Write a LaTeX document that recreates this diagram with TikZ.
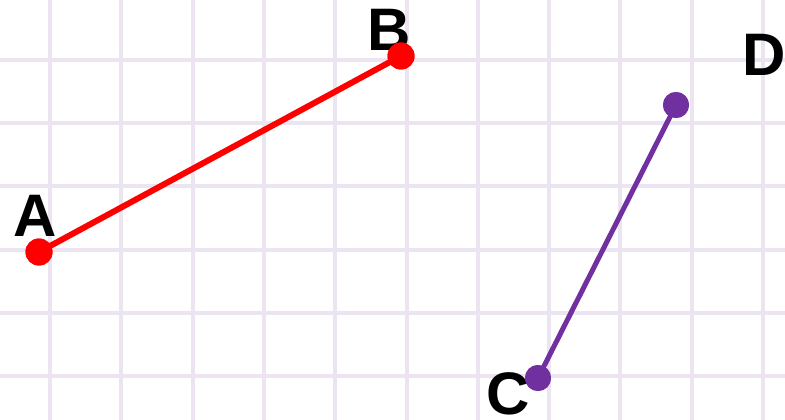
\documentclass[tikz,border=0pt]{standalone}
\usepackage{fontspec}
\setmainfont{Liberation Sans}
\begin{document}
\begin{tikzpicture}[x=1pt,y=-1pt,
  gridline/.style={draw=gridc,line width=4pt},
  dotred/.style={circle,fill=ptred,inner sep=0pt,minimum size=27pt},
  dotpur/.style={circle,fill=ptpur,inner sep=0pt,minimum size=26pt},
  lbl/.style={font=\fontsize{60}{60}\selectfont\bfseries,inner sep=0pt,anchor=center}]
\definecolor{gridc}{RGB}{236,228,240}
\definecolor{ptred}{RGB}{255,0,0}
\definecolor{ptpur}{RGB}{112,48,160}
\useasboundingbox (0,0) rectangle (785,420);
\fill[white] (0,0) rectangle (785,420);
\foreach \i in {0,...,10} {
  \draw[gridline] ({50+71.3*\i},0) -- ({50+71.3*\i},420);
}
\foreach \j in {0,...,5} {
  \draw[gridline] (0,{60+63.2*\j}) -- (785,{60+63.2*\j});
}
\node[lbl] (lA) at (35,216) {A};
\node[lbl] (lB) at (389,30) {B};
\node[lbl] (lC) at (508,394) {C};
\node[lbl] (lD) at (764,55) {D};
\node[dotred] (A) at (39,252) {};
\node[dotred] (B) at (401,56) {};
\node[dotpur] (C) at (538,378) {};
\node[dotpur] (D) at (676,105) {};
\draw[ptred,line width=6pt] (A.center) -- (B.center);
\draw[ptpur,line width=5pt] (C.center) -- (D.center);
\node[dotred] at (A) {};
\node[dotred] at (B) {};
\node[dotpur] at (C) {};
\node[dotpur] at (D) {};
\end{tikzpicture}
\end{document}
